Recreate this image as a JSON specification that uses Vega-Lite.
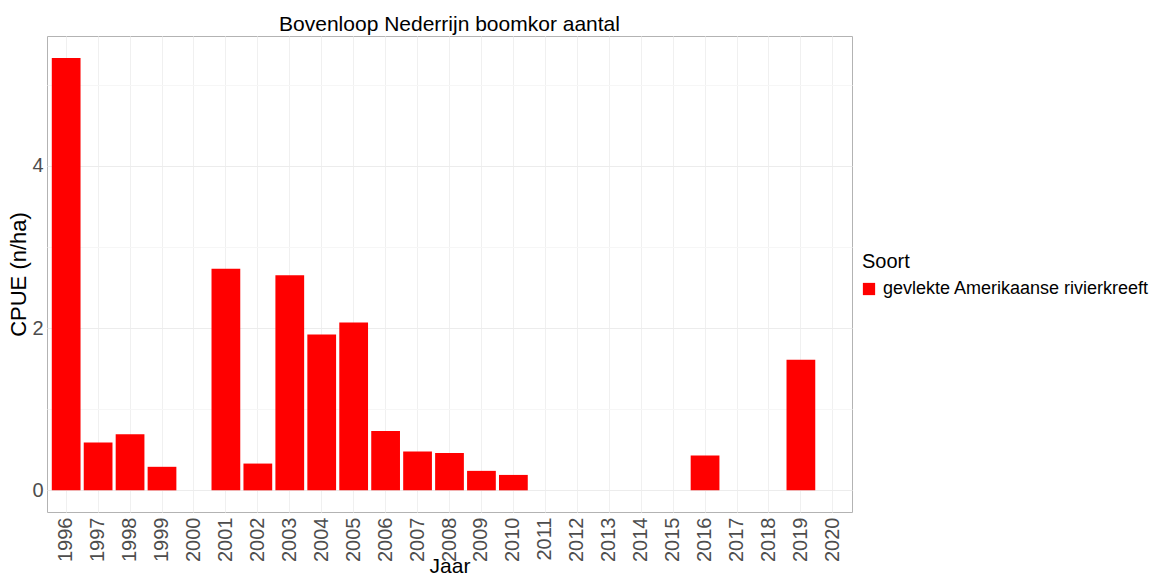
{
  "$schema": "https://vega.github.io/schema/vega-lite/v6.json",
  "autosize": {"type": "none"},
  "width": 805,
  "height": 476,
  "padding": {"left": 47, "top": 36, "right": 309, "bottom": 68},
  "background": "white",
  "title": {
    "text": "Bovenloop Nederrijn boomkor aantal",
    "font": "Liberation Sans",
    "fontSize": 21,
    "fontWeight": "normal",
    "color": "#000000",
    "anchor": "middle",
    "frame": "group",
    "baseline": "alphabetic",
    "offset": -16
  },
  "data": {
    "values": [
      {"Jaar": "1996", "CPUE": 5.33, "Soort": "gevlekte Amerikaanse rivierkreeft"},
      {"Jaar": "1997", "CPUE": 0.59, "Soort": "gevlekte Amerikaanse rivierkreeft"},
      {"Jaar": "1998", "CPUE": 0.69, "Soort": "gevlekte Amerikaanse rivierkreeft"},
      {"Jaar": "1999", "CPUE": 0.29, "Soort": "gevlekte Amerikaanse rivierkreeft"},
      {"Jaar": "2001", "CPUE": 2.73, "Soort": "gevlekte Amerikaanse rivierkreeft"},
      {"Jaar": "2002", "CPUE": 0.33, "Soort": "gevlekte Amerikaanse rivierkreeft"},
      {"Jaar": "2003", "CPUE": 2.65, "Soort": "gevlekte Amerikaanse rivierkreeft"},
      {"Jaar": "2004", "CPUE": 1.92, "Soort": "gevlekte Amerikaanse rivierkreeft"},
      {"Jaar": "2005", "CPUE": 2.07, "Soort": "gevlekte Amerikaanse rivierkreeft"},
      {"Jaar": "2006", "CPUE": 0.73, "Soort": "gevlekte Amerikaanse rivierkreeft"},
      {"Jaar": "2007", "CPUE": 0.48, "Soort": "gevlekte Amerikaanse rivierkreeft"},
      {"Jaar": "2008", "CPUE": 0.46, "Soort": "gevlekte Amerikaanse rivierkreeft"},
      {"Jaar": "2009", "CPUE": 0.24, "Soort": "gevlekte Amerikaanse rivierkreeft"},
      {"Jaar": "2010", "CPUE": 0.19, "Soort": "gevlekte Amerikaanse rivierkreeft"},
      {"Jaar": "2016", "CPUE": 0.43, "Soort": "gevlekte Amerikaanse rivierkreeft"},
      {"Jaar": "2019", "CPUE": 1.61, "Soort": "gevlekte Amerikaanse rivierkreeft"}
    ]
  },
  "config": {
    "view": {"stroke": "#b3b3b3", "strokeWidth": 1},
    "font": "Liberation Sans"
  },
  "mark": {"type": "bar", "color": "#ff0000"},
  "encoding": {
    "x": {
      "field": "Jaar",
      "type": "ordinal",
      "scale": {
        "domain": ["1996","1997","1998","1999","2000","2001","2002","2003","2004","2005","2006","2007","2008","2009","2010","2011","2012","2013","2014","2015","2016","2017","2018","2019","2020"],
        "paddingInner": 0.1,
        "paddingOuter": 0.15
      },
      "axis": {
        "title": "Jaar",
        "titleFont": "Liberation Sans",
        "titleFontSize": 21,
        "titleFontWeight": "normal",
        "titleColor": "#000000",
        "titleBaseline": "alphabetic",
        "titlePadding": 11,
        "labelAngle": 270,
        "labelAlign": "right",
        "labelBaseline": "middle",
        "labelFont": "Liberation Sans",
        "labelFontSize": 20,
        "labelColor": "#4d4d4d",
        "labelPadding": 5,
        "ticks": false,
        "domain": false,
        "grid": true,
        "gridColor": "#f0f0f0",
        "gridWidth": 1,
        "bandPosition": 0.5
      }
    },
    "y": {
      "field": "CPUE",
      "type": "quantitative",
      "scale": {"domain": [-0.267, 5.6], "nice": false, "zero": false},
      "axis": {
        "title": "CPUE (n/ha)",
        "titleFont": "Liberation Sans",
        "titleFontSize": 22,
        "titleFontWeight": "normal",
        "titleColor": "#000000",
        "titlePadding": 1,
        "values": [0, 1, 2, 3, 4, 5],
        "labelExpr": "datum.value % 2 === 0 ? datum.label : ''",
        "labelFont": "Liberation Sans",
        "labelFontSize": 20,
        "labelColor": "#4d4d4d",
        "labelPadding": 4,
        "ticks": false,
        "domain": false,
        "grid": true,
        "gridColor": {"condition": {"test": "datum.value % 2 === 1", "value": "#f6f6f6"}, "value": "#ececec"},
        "gridWidth": 1
      }
    },
    "color": {
      "field": "Soort",
      "type": "nominal",
      "scale": {"range": ["#ff0000"]},
      "legend": {
        "title": "Soort",
        "orient": "none",
        "legendX": 815,
        "legendY": 216,
        "titleFont": "Liberation Sans",
        "titleFontSize": 20,
        "titleFontWeight": "normal",
        "titleColor": "#000000",
        "titlePadding": 8,
        "labelFont": "Liberation Sans",
        "labelFontSize": 18,
        "labelColor": "#000000",
        "labelOffset": 5,
        "labelLimit": 400,
        "symbolType": "square",
        "symbolSize": 150,
        "symbolOffset": -2,
        "symbolStrokeWidth": 0,
        "symbolOpacity": 1
      }
    }
  }
}
